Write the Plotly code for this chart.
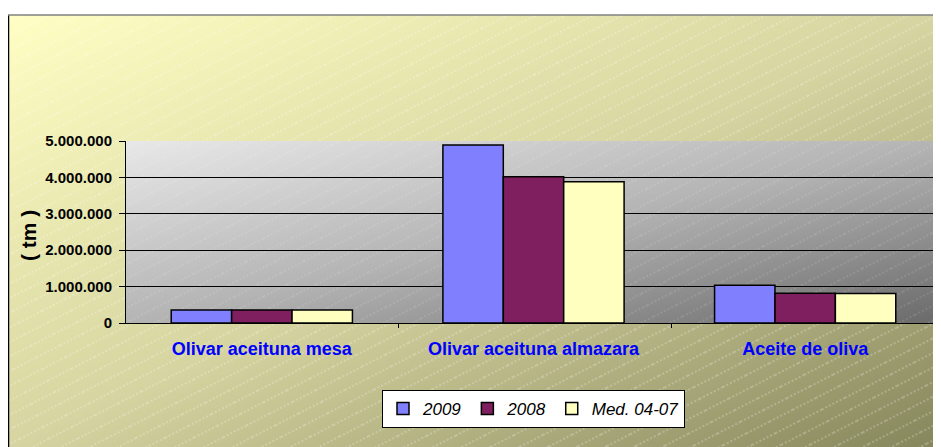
import base64
import plotly.graph_objects as go

categories = ["Olivar aceituna mesa", "Olivar aceituna almazara", "Aceite de oliva"]
series_names = ["2009", "2008", "Med. 04-07"]
values_2009 = [355000, 4890000, 1040000]
values_2008 = [355000, 4020000, 815000]
values_med = [355000, 3880000, 810000]
series_colors = ["#8080FF", "#7F1F5F", "#FFFFC0"]
y_tickvals = [0, 1000000, 2000000, 3000000, 4000000, 5000000]
y_ticktext = ["0", "1.000.000", "2.000.000", "3.000.000", "4.000.000", "5.000.000"]

OFF = 8  # page body margin
W, H = 941 - OFF, 447 - OFF
PL, PR, PT, PB = 126, 941, 141, 323  # plot area in page pixels
pw, ph = PR - PL, PB - PT


def px_x(p):
    return (p - PL) / pw


def px_y(p):
    return (PB - p) / ph


def svg_uri(svg):
    return "data:image/svg+xml;base64," + base64.b64encode(svg.encode()).decode()


ow, oh = 933, 432
outer_svg = f'''<svg xmlns="http://www.w3.org/2000/svg" width="{ow}" height="{oh}" viewBox="0 0 {ow} {oh}" preserveAspectRatio="none">
<defs>
<linearGradient id="g" x1="0" y1="0" x2="1" y2="1">
<stop offset="0" stop-color="#FFFFC4"/>
<stop offset="0.5" stop-color="#D6D4A0"/>
<stop offset="1" stop-color="#86865C"/>
</linearGradient>
<pattern id="h" patternUnits="userSpaceOnUse" width="26" height="13" patternTransform="rotate(-27)">
<line x1="0" y1="6" x2="26" y2="6" stroke="#FFFFFF" stroke-opacity="0.45" stroke-width="1" stroke-dasharray="2,2"/>
</pattern>
</defs>
<rect width="{ow}" height="{oh}" fill="url(#g)"/>
<rect width="{ow}" height="{oh}" fill="url(#h)"/>
</svg>'''

plot_svg = f'''<svg xmlns="http://www.w3.org/2000/svg" width="{pw}" height="{ph}" viewBox="0 0 {pw} {ph}" preserveAspectRatio="none">
<defs>
<linearGradient id="p" x1="0" y1="0" x2="1" y2="1">
<stop offset="0" stop-color="#E8E8E8"/>
<stop offset="0.5" stop-color="#B4B4B4"/>
<stop offset="1" stop-color="#6A6A6A"/>
</linearGradient>
<pattern id="h2" patternUnits="userSpaceOnUse" width="26" height="13" patternTransform="rotate(-27)">
<line x1="0" y1="6" x2="26" y2="6" stroke="#FFFFFF" stroke-opacity="0.2" stroke-width="1" stroke-dasharray="2,2"/>
</pattern>
</defs>
<rect width="{pw}" height="{ph}" fill="url(#p)"/>
<rect width="{pw}" height="{ph}" fill="url(#h2)"/>
</svg>'''

FONT = "Liberation Sans, Arial, sans-serif"

fig = go.Figure()
for name, vals, col in zip(series_names, [values_2009, values_2008, values_med], series_colors):
    fig.add_trace(go.Bar(
        x=categories, y=vals, name=name,
        marker=dict(color=col, line=dict(color="#000000", width=1.5)),
    ))

fig.update_layout(
    width=W, height=H,
    margin=dict(l=PL - OFF, r=0, t=PT - OFF, b=447 - PB, pad=0),
    paper_bgcolor="#FFFFFF",
    plot_bgcolor="rgba(0,0,0,0)",
    barmode="group",
    bargap=0.333,
    bargroupgap=0,
    font=dict(family=FONT, color="#000000"),
    showlegend=True,
    legend=dict(
        orientation="h", x=px_x(382), y=px_y(390), xanchor="left", yanchor="top",
        bgcolor="#FFFFFF", bordercolor="#000000", borderwidth=1,
        font=dict(size=17, family=FONT, color="#000000", style="italic"),
        itemwidth=30, traceorder="normal",
    ),
    images=[
        dict(source=svg_uri(outer_svg), xref="paper", yref="paper",
             x=px_x(8), y=px_y(15), sizex=ow / pw, sizey=oh / ph,
             sizing="stretch", xanchor="left", yanchor="top", layer="below"),
        dict(source=svg_uri(plot_svg), xref="paper", yref="paper",
             x=0, y=1, sizex=1, sizey=1,
             sizing="stretch", xanchor="left", yanchor="top", layer="below"),
    ],
    shapes=[
        dict(type="line", xref="paper", yref="paper", x0=px_x(8.5), x1=px_x(8.5),
             y0=px_y(15), y1=px_y(447), line=dict(color="#000000", width=1.5)),
        dict(type="line", xref="paper", yref="paper", x0=px_x(8), x1=px_x(941),
             y0=px_y(15), y1=px_y(15), line=dict(color="#808080", width=1.5)),
        dict(type="line", xref="paper", yref="paper", x0=px_x(398.5), x1=px_x(398.5),
             y0=0, y1=px_y(328), line=dict(color="#000000", width=1)),
        dict(type="line", xref="paper", yref="paper", x0=px_x(671.5), x1=px_x(671.5),
             y0=0, y1=px_y(328), line=dict(color="#000000", width=1)),
    ],
    annotations=[
        dict(text="<b>( tm )</b>", xref="paper", yref="paper", x=px_x(28), y=px_y(236),
             textangle=-90, showarrow=False, xanchor="center", yanchor="middle",
             font=dict(size=21, family=FONT, color="#000000")),
    ],
)

fig.update_xaxes(
    showgrid=False, showline=True, linecolor="#000000", linewidth=1,
    ticks="", tickfont=dict(size=18, color="#0000FF", family=FONT, weight="bold"),
    ticklabelstandoff=9,
)
fig.update_yaxes(
    range=[0, 5000000], tickvals=y_tickvals, ticktext=y_ticktext,
    showgrid=True, gridcolor="#000000", gridwidth=1,
    showline=True, linecolor="#000000", linewidth=1,
    ticks="outside", ticklen=6, tickcolor="#000000",
    tickfont=dict(size=15, color="#000000", family=FONT, weight="bold"),
    ticklabelstandoff=4,
    zeroline=False,
)

fig.write_html("out.html")
